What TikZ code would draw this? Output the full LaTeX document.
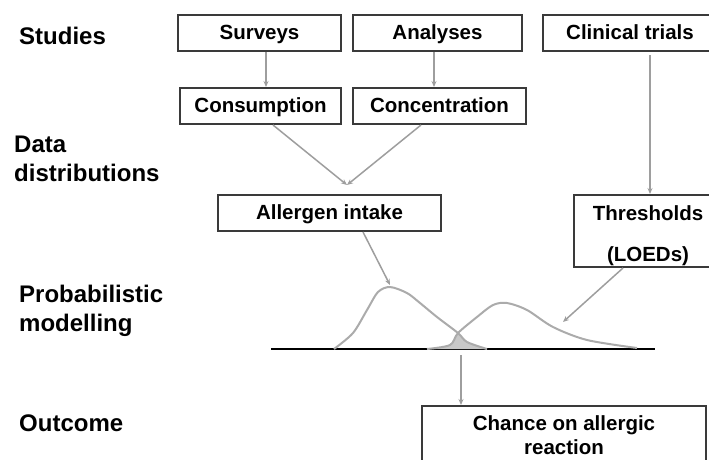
\documentclass[tikz,border=0pt]{standalone}
\usepackage{fontspec}
\setmainfont{Liberation Sans}
\usetikzlibrary{arrows.meta, calc}

\definecolor{boxgray}{HTML}{3A3A3A}
\definecolor{arrowgray}{HTML}{9E9E9E}
\definecolor{curvegray}{HTML}{ABABAB}
\definecolor{fillgray}{HTML}{C8C8C8}

\tikzset{
	box/.style={draw=boxgray, line width=2pt, inner sep=0pt, text height=15pt, text depth=3pt, font=\fontsize{20.5}{24}\selectfont\bfseries},
	level/.style={anchor=north west, inner sep=0pt, align=left, font=\fontsize{24}{29}\selectfont\bfseries},
	flow/.style={draw=arrowgray, line width=1.5pt, -{Stealth[length=6pt,width=5pt]}},
	density/.style={draw=curvegray, line width=2pt}
}

\begin{document}
\begin{tikzpicture}[x=1pt, y=-1pt]
	\useasboundingbox (0,0) rectangle (709,459);
	\clip (0,0) rectangle (709,459);
	% levels on the left
	\node[level] (studies) at (19,26.5) {Studies};
	\node[level] (data) at (14,135.5) {Data\\distributions};
	\node[level] (modelling) at (19,284.5) {Probabilistic\\modelling};
	\node[level] (outcome) at (19,414.5) {Outcome};
	% boxes
	\node[box, minimum width=163, minimum height=36] (surveys) at (259.5,33) {Surveys};
	\node[box, minimum width=169, minimum height=36] (analyses) at (437.5,33) {Analyses};
	\node[box, minimum width=174, minimum height=36] (trials) at (630,33) {Clinical trials};
	\node[box, minimum width=161, minimum height=36] (consumption) at (260.5,106) {Consumption};
	\node[box, minimum width=173, minimum height=36] (concentration) at (439.5,106) {Concentration};
	\node[box, minimum width=223, minimum height=36] (intake) at (329.5,213) {Allergen intake};
	\node[box, minimum width=148, minimum height=72, align=center, text height=, text depth=] (thresholds) at (648,231) {\rule{0pt}{25pt}Thresholds\\[17pt](LOEDs)};
	\node[box, minimum width=284, anchor=north, inner ysep=10pt, align=center, text height=, text depth=, font=\fontsize{20.5}{23.5}\selectfont\bfseries] (chance) at (564,405) {Chance on allergic\\reaction\\[10pt]};
	% distributions
	\draw[line width=1.5pt] (271,349) -- (655,349);
	\fill[fillgray] plot[smooth] coordinates {(427,349) (450,345) (458,333)} -- plot[smooth] coordinates {(458,333) (467,342) (487,349)} -- cycle;
	\draw[density] plot[smooth] coordinates {(334,349) (353,333) (367,310) (378,292) (390,287) (407,293) (420,303) (437,317) (458,333) (467,342) (487,349)};
	\draw[density] plot[smooth] coordinates {(427,349) (450,345) (458,333) (477,317) (493,305) (507,303) (527,310) (553,327) (587,340) (637,348)};
	\coordinate (merge) at (347,185);
	\coordinate (peakA) at (390,285);
	\coordinate (tailB) at (563,322);
	\coordinate (overlap) at (461,355);
	% arrows
	\draw[flow] ($(surveys.south)+(6.5,0)$) -- ($(consumption.north)+(5.5,0)$);
	\draw[flow] ($(analyses.south)+(-3.5,0)$) -- ($(concentration.north)+(-5.5,0)$);
	\draw[flow, shorten <=3pt] ($(trials.south)+(20,0)$) -- ($(thresholds.north)+(2,0)$);
	\draw[flow] ($(consumption.south)+(12.5,0)$) -- (merge);
	\draw[flow] ($(concentration.south)+(-18.5,0)$) -- (merge);
	\draw[flow] ($(intake.south)+(33.5,0)$) -- (peakA);
	\draw[flow] ($(thresholds.south)+(-25,0)$) -- (tailB);
	\draw[flow] (overlap) -- (chance.north -| overlap);
\end{tikzpicture}
\end{document}
